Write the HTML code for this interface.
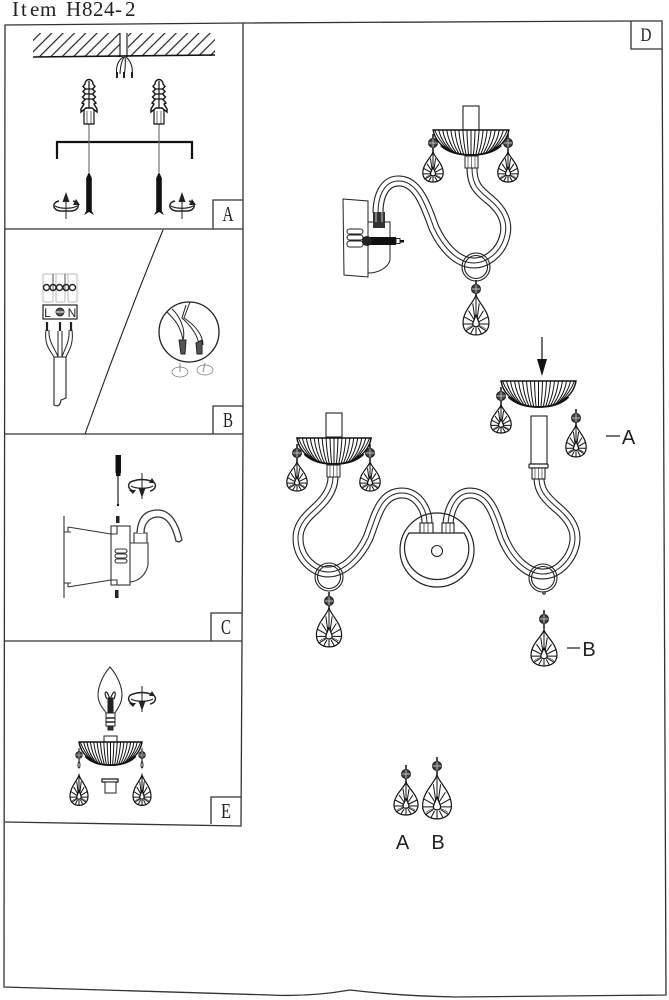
<!DOCTYPE html>
<html><head><meta charset="utf-8"><title>Item H824-2</title>
<style>
html,body{margin:0;padding:0;background:#fff;width:669px;height:1000px;overflow:hidden}
svg{display:block}
.ns,.ns *{vector-effect:non-scaling-stroke}
text{fill:#222}
.lb{font-family:"Liberation Serif",serif;font-size:21px;text-anchor:middle}
.sf{font-family:"Liberation Sans",sans-serif;font-size:20px;text-anchor:middle}
</style></head><body>
<svg width="669" height="1000" viewBox="0 0 669 1000" xmlns="http://www.w3.org/2000/svg">
<defs>
<pattern id="h" width="8" height="8" patternUnits="userSpaceOnUse" patternTransform="rotate(45)"><path d="M4 0V8" stroke="#222" stroke-width="1.200"/></pattern>
<g id="dr" class="ns" fill="none" stroke="#111" stroke-width="1">
<path fill="#fff" stroke-width="1.200" d="M0 0C-2 6-12 13-12 23C-12 30-6 33 0 33C6 33 12 30 12 23C12 13 2 6 0 0Z"/>
<path d="M0 2V17M-1 20L-3 7M1 20L3 7M-2 20L-7 13M2 20L7 13M-3 22L-11 18M3 22L11 18M-3 24L-12 24M3 24L12 24M-3 26L-10 30M3 26L10 30M-2 27L-5 32M2 27L5 32M0 27V33"/>
<path d="M-9 28Q0 22 9 28" stroke-width=".6"/>
<path fill="#fff" stroke-width="1.300" d="M0 16C-1 20-3 22-3 24C-3 27 3 27 3 24C3 22 1 20 0 16Z"/>
</g>
<g id="bd" fill="none" stroke="#111" stroke-width="1">
<circle r="4.500" fill="#444"/><path d="M-4.500 0H4.500M0-4.500V4.500" stroke="#ddd" stroke-width=".7"/><path d="M0-9V-4.500M0 4.500V10" stroke-width="1.500"/>
</g>
<g id="bw" class="ns" fill="none" stroke="#111" stroke-width="1">
<path fill="#fff" stroke-width="1.400" d="M-37.500 0H37.500C35 15 20 26 0 26C-20 26-35 15-37.500 0Z"/>
<path d="M0 0V26M4 0Q3.700 14 2.400 25.900M-4 0Q-3.700 14-2.400 25.900M8 0Q7.400 14 4.800 25.800M-8 0Q-7.400 14-4.800 25.800M12 0Q11 14 7.200 25.500M-12 0Q-11 14-7.200 25.500M16 0Q14.700 14 9.600 25.100M-16 0Q-14.700 14-9.600 25.100M20 0Q18.400 14 12 24.600M-20 0Q-18.400 14-12 24.600M24 0Q22 14 14.400 24M-24 0Q-22 14-14.400 24M28 0Q25.800 14 16.800 23.200M-28 0Q-25.800 14-16.800 23.200M32 0Q29.400 12 19.200 22.300M-32 0Q-29.400 12-19.200 22.300M36 0Q32 11 21.600 21.200M-36 0Q-32 11-21.600 21.200"/>
<path stroke-width="1.800" d="M-30 16C-22 24-10 26 0 26C10 26 22 24 30 16"/>
</g>
<g id="rd" fill="none" stroke="#222" stroke-width="1">
<path d="M0-14V12"/><path fill="#222" stroke="none" d="M-3.500 1H3.500L0 11Z"/>
<path stroke-width="1.500" d="M-9-6C-16-4-14 3-8 4M8 4C14 3 16-4 9-6C3-8-3-8-9-6"/><path stroke-width="1.300" d="M-11-1C-6 2 6 2 11-1"/>
<path fill="#222" stroke="none" d="M-13 3L-6 3L-9 7ZM10-9L13-4L7-4Z"/>
</g>
<g id="ru" fill="none" stroke="#222" stroke-width="1">
<path d="M0-11V15"/><path fill="#222" stroke="none" d="M-3.500-2H3.500L0-12Z"/>
<path stroke-width="1.500" d="M-7-3C-14-2-14 6-6 7H6C14 6 14-2 7-3"/><path stroke-width="1.300" d="M-11 2C-6 5 6 5 11 2"/>
<path fill="#222" stroke="none" d="M10-5L14 1L7 1Z"/>
</g>
<g id="an" fill="none" stroke="#111" stroke-width="1.200">
<path fill="#fff" d="M-5 28V45H5V28"/>
<path d="M-2 32V45M2 32V45" stroke-width=".6"/>
<path fill="#fff" stroke-width="1.400" d="M-4 5A4 4.500 0 0 1 4 5L6 7.500L3.500 10L6 12.500L3.500 15L6.500 18L4 20.500L7 24L5 25L8 30V33L3 29H-3L-8 33V30L-5 25L-7 24L-4 20.500L-6.500 18L-3.500 15L-6 12.500L-3.500 10L-6 7.500Z"/>
<path d="M0 2V29M-4 10H4M-4 15H4M-4 20H4"/>
</g>
<path id="a1" d="M472 168C472 185 478 190 490 200C502 210 508 222 505 235C501 253 486 263 474 263C455 263 441 243 434 228C426 206 418 182 400 181C385 180 378 195 378 213"/>
<path id="a2" d="M333 477C333 492 322 503 313 511C303 520 298 528 298 538C298 558 314 572 328 572C345 572 360 555 368 538C376 518 380 493 402 493C418 493 427 510 427 523"/>
<path id="a3" d="M448 523C450 505 458 493 470 493C490 493 495 515 503 538C512 560 528 574 543 574C560 574 575 555 575 538C575 525 566 515 555 506C545 497 539 490 539 478"/>
</defs>

<rect width="669" height="1000" fill="#fff"/>
<text x="12 21 30 40 60 66 82 93 104 115 125" y="16" font-family="Liberation Serif,serif" font-size="21" xml:space="preserve">Item H824-2</text>

<!-- frames -->
<g fill="none" stroke="#333" stroke-width="1.300">
<path d="M5 25L243 23L631 21H662L666 995L560 996L455 997Q400 996 350 990Q310 997 270 995L4 987L5 25Z"/>
<path d="M243 23L243 434L242 641L241 826L5 822M5 229H243M5 434H243M5 641H242"/>
<path d="M631 21V49H662M213 229V200H243M213 434V406H243M211 641V613H242M211 824V797H241"/>
</g>
<g class="lb">
<text x="646" y="41" font-size="19" textLength="11" lengthAdjust="spacingAndGlyphs">D</text>
<text x="228" y="221" textLength="11" lengthAdjust="spacingAndGlyphs">A</text>
<text x="228" y="427" textLength="10" lengthAdjust="spacingAndGlyphs">B</text>
<text x="226" y="634" textLength="10" lengthAdjust="spacingAndGlyphs">C</text>
<text x="226" y="818" textLength="10" lengthAdjust="spacingAndGlyphs">E</text>
</g>

<!-- A -->
<rect x="33" y="33" width="87" height="24" fill="url(#h)"/><rect x="128" y="33" width="87" height="23" fill="url(#h)"/>
<g fill="none" stroke="#111">
<path d="M33 57L215 55" stroke-width="1.600"/><path d="M120 33V57M127 33V57" stroke-width="1.100"/>
<path d="M123 57C116 62 116 70 117 77M124 57C121 62 120 70 120 74M125 57C126 64 125 70 124 77M126 57C132 62 133 70 132 77" stroke-width="1"/>
<path d="M117 72V78M124 72V78M132 72V78" stroke-width="1.800"/>
<path d="M57 159V142H192V159" stroke-width="2.200"/>
<path d="M89 124V172M159 124V172" stroke="#666" stroke-width="1.100"/>
</g>
<use href="#an" x="89" y="79"/><use href="#an" x="159" y="79"/>
<path d="M89 172L91.800 178V211L94 215L89 212L84 215L86.200 211V178Z M159 172L161.800 178V211L164 215L159 212L154 215L156.200 211V178Z" fill="#111"/>
<use href="#ru" x="66" y="204"/><use href="#ru" x="182" y="204"/>

<!-- B -->
<g fill="none" stroke="#222">
<path d="M43 274V302M53 274V302M56 274V302M65 274V302M68 274V302M77 274V302M43 274H77M43 302H53M56 302H65M68 302H77" stroke="#aaa" stroke-width=".8"/>
<path d="M53 274V290M65 274V290" stroke="#555"/>
<circle cx="46.500" cy="287.500" r="3" stroke-width="1.400"/><circle cx="53" cy="287.500" r="3" stroke-width="1.400"/><circle cx="59.500" cy="287.500" r="3" stroke-width="1.400"/><circle cx="66" cy="287.500" r="3" stroke-width="1.400"/><circle cx="72.500" cy="287.500" r="3" stroke-width="1.400"/>
<rect x="43" y="305" width="34" height="14" stroke-width="1.200"/>
<circle cx="60" cy="312" r="4" fill="#555"/><path d="M56 312H64" stroke="#fff"/>
<path d="M47 322V331M60 322V331M71 322V331" stroke-width="2.200"/>
<path d="M46 330C44 345 50 350 54 357M49 330C48 342 56 350 58 357M58 331V357M62 331V357M69 330C70 342 64 350 62 357M72 330C74 345 68 352 66 357" stroke-width="1"/>
<path d="M54 357V405Q60 408 61 400L66 398V357M54 357H66" fill="#fff" stroke-width="1.100"/>
<path d="M163 230Q126 320 85 434" stroke-width="1.100"/>
<circle cx="189" cy="332" r="30" stroke-width="1.300"/>
<path d="M167 312C175 320 180 325 183 340M172 309C180 316 186 330 183 340M186 305L182 318C190 325 198 335 199 345M190 302L184 318C195 325 203 335 203 345" stroke-width="1"/>
<path d="M179 340H186L185 354H181ZM196 343L202 340L202 354H197Z" fill="#555"/>
<path d="M180 363V372M205 363L203 372" stroke="#888"/>
<ellipse cx="180" cy="372" rx="8" ry="5" stroke="#777" stroke-width=".7"/><ellipse cx="205" cy="370" rx="8" ry="5" stroke="#777" stroke-width=".7"/>
</g>
<text x="47.500" y="317" font-family="Liberation Sans,sans-serif" font-size="12" text-anchor="middle">L</text>
<text x="72" y="317" font-family="Liberation Sans,sans-serif" font-size="12" text-anchor="middle">N</text>

<!-- C -->
<path d="M115.500 455H121V473H120.500V476H116V473H115.500Z" fill="#111"/>
<path d="M118 476V504" stroke="#333" stroke-width="1.300"/><circle cx="118" cy="505" r="1.200" fill="#111"/>
<use href="#rd" x="142" y="487"/>
<rect x="116" y="516" width="3.500" height="7" fill="#222"/><rect x="115" y="590" width="3.500" height="8" fill="#222"/>
<g fill="none" stroke="#333" stroke-width="1.100">
<path d="M64 516V598M64 532H71M64 583H71M68 527L111 534M68 587L111 580M68 527V532M68 583V587"/>
<rect x="111" y="526" width="19" height="59" fill="#fff"/>
<path d="M111 534H117V526M111 580H117V585"/>
<rect x="115" y="549" width="12" height="4" rx="2"/><rect x="115" y="554" width="12" height="4" rx="2"/><rect x="115" y="559" width="12" height="4" rx="2"/>
<path d="M130 543H148V565C146 574 140 581 130 582"/>
<path d="M134 543V533H147V543"/>
<path d="M137 533C138 515 147 510 158 510C170 510 178 522 182 540L179 542L176 541C173 528 168 517 158 517C150 517 144 523 144 533" fill="#fff" stroke-width="1.300"/>
</g>

<!-- E -->
<g fill="none" stroke="#222">
<path d="M110 667C103 675 98 686 98 695C98 704 104 709 106 713H115C117 709 122 704 122 695C122 686 117 675 110 667Z" stroke-width="1"/>
<path d="M107 699C104 694 105 690 107.500 693L110 699L113 693C115.500 690 116 694 114 699" stroke-width="1.200"/>
<rect x="108" y="698" width="5" height="14" fill="#222"/>
<rect x="106" y="713" width="9" height="13" fill="#fff"/><path d="M106 718H115M106 722H115" stroke-width="1.600"/><path d="M108 726H113V730H108Z" fill="#333"/>
<rect x="104" y="736" width="13" height="7" fill="#fff"/>
<rect x="102" y="779" width="16" height="3" fill="#fff" stroke-width="1.300"/><rect x="105" y="782" width="11" height="11" fill="#fff"/>
<ellipse cx="79" cy="765" rx="1" ry="3"/><ellipse cx="142" cy="765" rx="1" ry="3"/>
</g>
<use href="#rd" x="142" y="700"/>
<g transform="translate(110.500 742) scale(.84 .89)"><use href="#bw"/></g>
<use href="#bd" transform="translate(79 755) scale(.75)"/>
<use href="#bd" transform="translate(142 755) scale(.75)"/>
<g transform="translate(79 775) scale(.75 .92)"><use href="#dr"/></g>
<g transform="translate(142 775) scale(.75 .92)"><use href="#dr"/></g>

<!-- D top lamp -->
<rect x="463" y="106" width="16" height="24" fill="#fff" stroke="#222" stroke-width="1.100"/>
<g fill="none">
<use href="#a1" stroke="#222" stroke-width="11"/><use href="#a1" stroke="#fff" stroke-width="8.800"/><use href="#a1" stroke="#222" stroke-width="1"/>
</g>
<g transform="translate(471 130) scale(1.01 .96)"><use href="#bw"/></g>
<rect x="465" y="156" width="13" height="12" fill="#fff" stroke="#222"/><path d="M468 156V168M471.500 156V168M475 156V168" stroke="#222" stroke-width=".6"/>
<use href="#bd" transform="translate(433 143)"/><use href="#bd" transform="translate(508 143)"/>
<g transform="translate(433 152) scale(.85 .91)"><use href="#dr"/></g>
<g transform="translate(508 152) scale(.85 .91)"><use href="#dr"/></g>
<g fill="none" stroke="#222" stroke-width="1.100"><circle cx="476" cy="267" r="14"/><circle cx="476" cy="267" r="11.500"/></g>
<use href="#bd" transform="translate(476 289)"/>
<g transform="translate(476 295) scale(1.080 1.210)"><use href="#dr"/></g>
<g fill="none" stroke="#222" stroke-width="1">
<path d="M343 199L368 201V277L344 275Z" fill="#fff"/>
<path d="M368 222H390V260C388 268 378 273 368 273"/>
<rect x="347" y="229" width="16" height="5" rx="2.500"/><rect x="347" y="235" width="16" height="5" rx="2.500"/><rect x="347" y="241" width="16" height="6" rx="2.500"/>
</g>
<rect x="373" y="212" width="12" height="16" fill="#333"/><path d="M376 212V222M382 212V222" stroke="#ccc"/>
<rect x="363" y="237" width="33" height="8" fill="#111"/><circle cx="367" cy="241" r="5" fill="#222"/>
<rect x="396" y="238.500" width="4" height="5" fill="#fff" stroke="#222"/><rect x="400" y="240" width="4" height="2.500" fill="#111"/>

<!-- double arm lamp -->
<rect x="326" y="413" width="16" height="24" fill="#fff" stroke="#222" stroke-width="1.100"/>
<g fill="none">
<use href="#a2" stroke="#222" stroke-width="11"/><use href="#a2" stroke="#fff" stroke-width="8.800"/><use href="#a2" stroke="#222" stroke-width="1"/>
<use href="#a3" stroke="#222" stroke-width="11"/><use href="#a3" stroke="#fff" stroke-width="8.800"/><use href="#a3" stroke="#222" stroke-width="1"/>
</g>
<g transform="translate(334 438) scale(.99 1)"><use href="#bw"/></g>
<rect x="327" y="465" width="13" height="12" fill="#fff" stroke="#222"/><path d="M330 465V477M333.500 465V477M337 465V477" stroke="#222" stroke-width=".6"/>
<use href="#bd" transform="translate(297 453)"/><use href="#bd" transform="translate(370 453)"/>
<g transform="translate(297 462) scale(.85 .88)"><use href="#dr"/></g>
<g transform="translate(370 462) scale(.85 .88)"><use href="#dr"/></g>
<g fill="none" stroke="#222" stroke-width="1.100">
<circle cx="329" cy="577" r="14"/><circle cx="329" cy="577" r="11.500"/>
<circle cx="543" cy="578" r="14"/><circle cx="543" cy="578" r="11.500"/>
<circle cx="544" cy="593" r="1.200"/>
<circle cx="437" cy="550" r="37" stroke-width="1.200"/>
<path d="M409 533H464C472 545 470 562 458 572C446 582 428 582 416 572C404 562 401 545 409 533Z" stroke-width="1.200"/>
<circle cx="437" cy="551" r="5.500"/>
<rect x="420" y="523" width="13" height="10" fill="#fff"/><path d="M424 523V533M428 523V533" stroke-width=".7"/>
<rect x="442" y="523" width="12" height="10" fill="#fff"/><path d="M446 523V533M450 523V533" stroke-width=".7"/>
<rect x="531" y="416" width="16" height="48" fill="#fff"/>
<rect x="529" y="464" width="19" height="4" rx="1" fill="#fff" stroke-width="1.200"/>
<rect x="532" y="468" width="13" height="11" fill="#fff"/><path d="M535 468V479M538.500 468V479M542 468V479" stroke-width=".6"/>
</g>
<use href="#bd" transform="translate(329 601)"/>
<g transform="translate(329 608) scale(1.050 1.180)"><use href="#dr"/></g>

<!-- exploded items -->
<path d="M542 337V361" stroke="#222" stroke-width="1.300"/><path d="M537 359H547L542 376Z" fill="#111"/>
<g transform="translate(538.500 381)"><use href="#bw"/></g>
<use href="#bd" transform="translate(501 396)"/>
<g transform="translate(501 405) scale(.85 .85)"><use href="#dr"/></g>
<use href="#bd" transform="translate(576 418)"/>
<g transform="translate(576 425) scale(.85 .97)"><use href="#dr"/></g>
<path d="M606 436H620M567 648H580" stroke="#222" stroke-width="1.200"/>
<text class="sf" x="628.500" y="444">A</text>
<text class="sf" x="589" y="656">B</text>
<use href="#bd" transform="translate(544 619)"/>
<g transform="translate(544 630) scale(1.080 1.090)"><use href="#dr"/></g>
<use href="#bd" transform="translate(406 774)"/>
<g transform="translate(406 782)"><use href="#dr"/></g>
<use href="#bd" transform="translate(437 766)"/>
<g transform="translate(437 775) scale(1.200 1.330)"><use href="#dr"/></g>
<text class="sf" x="402.500" y="849">A</text>
<text class="sf" x="438" y="849">B</text>
</svg>
</body></html>
